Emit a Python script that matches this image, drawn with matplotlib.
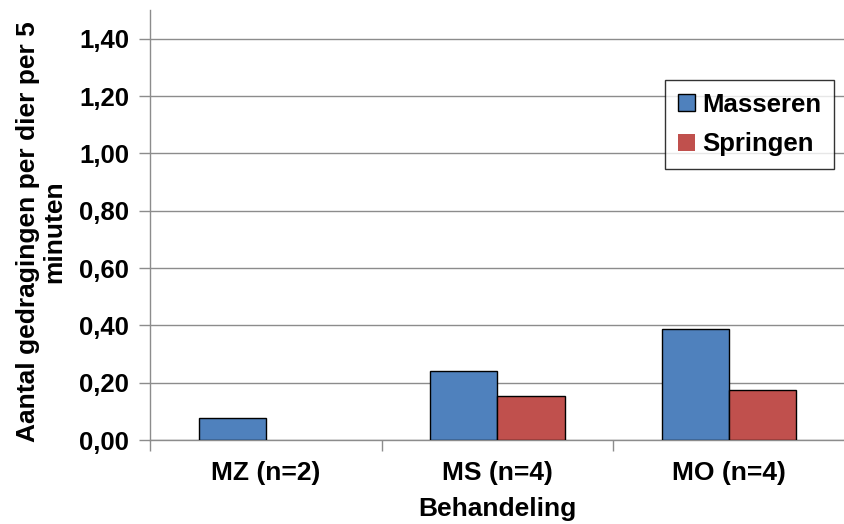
import numpy as np
import matplotlib.pyplot as plt

plt.rcParams['font.family'] = ['Liberation Sans', 'DejaVu Sans']
plt.rcParams['font.weight'] = 'bold'

categories = ['MZ (n=2)', 'MS (n=4)', 'MO (n=4)']
masseren = [0.077, 0.24, 0.387]
springen = [0.0, 0.153, 0.176]
y_ticks = [0.0, 0.2, 0.4, 0.6, 0.8, 1.0, 1.2, 1.4]

fig = plt.figure(figsize=(8.45, 5.24), dpi=100)
ax = fig.add_axes([150 / 845, 84 / 524, 695 / 845, 430 / 524])

x = np.arange(len(categories))
w = 0.29
# empty bars get no outline
edges_m = ['black' if v > 0 else 'none' for v in masseren]
edges_s = ['black' if v > 0 else 'none' for v in springen]
ax.bar(x - w / 2, masseren, w, color='#4F81BD', edgecolor=edges_m, linewidth=1, label='Masseren', zorder=3)
ax.bar(x + w / 2, springen, w, color='#C0504D', edgecolor=edges_s, linewidth=1, label='Springen', zorder=3)

ax.set_xlim(-0.5, len(categories) - 0.5)
ax.set_ylim(0, 1.5)
ax.set_yticks(y_ticks)
ax.set_yticklabels([f'{v:.2f}'.replace('.', ',') for v in y_ticks], fontsize=18.5, fontweight='bold')
ax.yaxis.grid(True, color='#8c8c8c', linewidth=1)
ax.set_axisbelow(True)

# category labels centred, ticks on the category boundaries
ax.set_xticks(x)
ax.set_xticklabels(categories, fontsize=19, fontweight='bold')
ax.tick_params(axis='x', length=0, pad=15)
ax.set_xticks(np.arange(-0.5, len(categories)), minor=True)
ax.tick_params(axis='x', which='minor', length=8, color='#8c8c8c', width=1)
ax.tick_params(axis='y', length=8, color='#8c8c8c', width=1, pad=7)

for s in ['top', 'right']:
    ax.spines[s].set_visible(False)
for s in ['left', 'bottom']:
    ax.spines[s].set_color('#8c8c8c')
    ax.spines[s].set_linewidth(1)

ax.set_xlabel('Behandeling', fontsize=19, fontweight='bold', labelpad=9)
ax.set_ylabel('Aantal gedragingen per dier per 5\nminuten', fontsize=19, fontweight='bold',
              linespacing=1.15)
ax.yaxis.set_label_coords(-0.12, 0.484)

leg = ax.legend(loc='upper left', bbox_to_anchor=(515 / 695, 1 - 70 / 430), fontsize=18.5,
                frameon=True, fancybox=False, edgecolor='black', handlelength=0.65,
                handleheight=0.65, handletextpad=0.3, labelspacing=0.6, borderpad=0.5,
                borderaxespad=0)
leg.get_frame().set_linewidth(1)
for t in leg.get_texts():
    t.set_fontweight('bold')

fig.savefig('out.png', dpi=100)
